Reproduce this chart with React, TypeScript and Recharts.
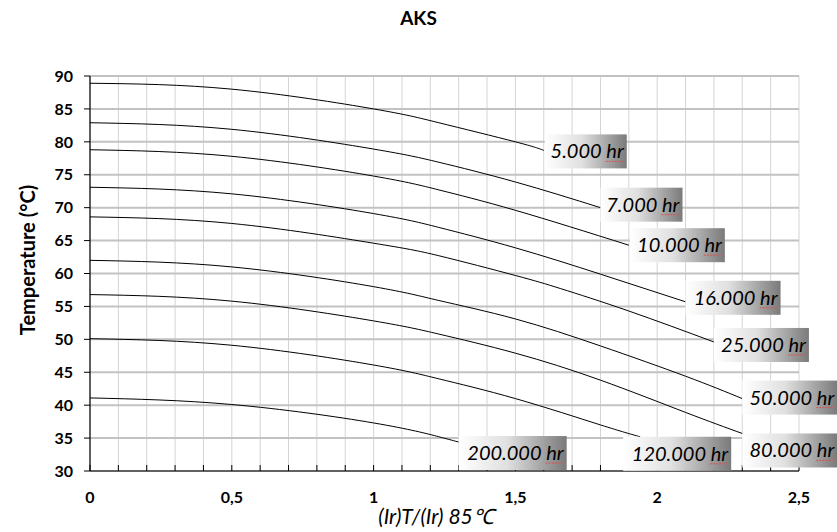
import React from 'react';
import { LineChart, Line, XAxis, YAxis, CartesianGrid } from 'recharts';

// ---- data ----
const X_5000 = [0, 0.5, 1.0, 1.23, 1.5, 1.6];
const T_5000 = [88.9, 88.0, 85.0, 82.9, 80.0, 78.7];

const X_7000 = [0, 0.5, 1.0, 1.23, 1.5, 1.8];
const T_7000 = [82.9, 81.9, 78.9, 76.9, 73.9, 70.0];

const X_10000 = [0, 0.5, 1.0, 1.23, 1.5, 1.9];
const T_10000 = [78.8, 77.8, 74.8, 72.7, 69.6, 64.3];

const X_16000 = [0, 0.5, 1.0, 1.23, 1.5, 1.8, 2.1];
const T_16000 = [73.1, 72.1, 69.1, 67.0, 63.9, 59.9, 55.7];

const X_25000 = [0, 0.5, 1.0, 1.23, 1.5, 1.66, 1.9, 2.2];
const T_25000 = [68.6, 67.6, 64.6, 62.7, 59.7, 57.7, 54.3, 49.6];

const X_50000 = [0, 0.5, 1.0, 1.23, 1.5, 1.8, 2.1, 2.3];
const T_50000 = [62.0, 61.0, 58.0, 55.9, 53.1, 49.0, 44.4, 41.0];

const X_80000 = [0, 0.5, 1.0, 1.23, 1.5, 1.8, 2.1, 2.3];
const T_80000 = [56.8, 55.8, 52.8, 50.8, 47.9, 43.8, 38.9, 35.7];

const X_120000 = [0, 0.5, 1.0, 1.23, 1.5, 1.8, 1.94];
const T_120000 = [50.1, 49.1, 46.1, 44.0, 41.0, 37.0, 35.2];

const X_200000 = [0, 0.5, 1.0, 1.23, 1.3];
const T_200000 = [41.1, 40.1, 37.3, 35.2, 34.4];

const SERIES_NAMES = ['5.000 hr', '7.000 hr', '10.000 hr', '16.000 hr', '25.000 hr', '50.000 hr', '80.000 hr', '120.000 hr', '200.000 hr'];
const SERIES_X = [X_5000, X_7000, X_10000, X_16000, X_25000, X_50000, X_80000, X_120000, X_200000];
const SERIES_T = [T_5000, T_7000, T_10000, T_16000, T_25000, T_50000, T_80000, T_120000, T_200000];

const X_TICKS = [0, 0.1, 0.2, 0.3, 0.4, 0.5, 0.6, 0.7, 0.8, 0.9, 1, 1.1, 1.2, 1.3, 1.4, 1.5, 1.6, 1.7, 1.8, 1.9, 2, 2.1, 2.2, 2.3, 2.4, 2.5];
const X_MAJOR_LABELS: Record<string, string> = { '0': '0', '0.5': '0,5', '1': '1', '1.5': '1,5', '2': '2', '2.5': '2,5' };
const Y_TICKS = [30, 35, 40, 45, 50, 55, 60, 65, 70, 75, 80, 85, 90];

const TITLE = 'AKS';
const Y_TITLE = 'Temperature (°C)';
const X_TITLE = '(Ir)T/(Ir) 85\u2103';

// label box placement (offsets relative to the line's last point), kept apart from data
const LABEL_PLACEMENT: Record<string, { dx: number; dy: number }> = {
  '5.000 hr': { dx: 1, dy: -16 },
  '7.000 hr': { dx: 0, dy: -20 },
  '10.000 hr': { dx: 1, dy: -17 },
  '16.000 hr': { dx: 0, dy: -21 },
  '25.000 hr': { dx: 0, dy: -14 },
  '50.000 hr': { dx: 0, dy: -18 },
  '80.000 hr': { dx: 0, dy: 0 },
  '120.000 hr': { dx: -17, dy: 0 },
  '200.000 hr': { dx: 0, dy: -6 },
};

const FONT = 'Lato, "Open Sans", sans-serif';

const buildData = (xs: number[], ts: number[]) => xs.map((x, i) => ({ x, t: ts[i] }));

const XTick = (props: any) => {
  const { x, y, payload } = props;
  const v = payload.value;
  const axisY = y - 21;
  const key = String(Math.round(v * 10) / 10);
  const lbl = X_MAJOR_LABELS[key];
  return (
    <g>
      <line x1={x} x2={x} y1={axisY} y2={axisY - 6} stroke="#000" strokeWidth={1} />
      {lbl !== undefined && (
        <text x={x} y={y} dy="0.71em" textAnchor="middle" fontFamily={FONT} fontWeight={700} fontSize={16} fill="#000">
          {lbl}
        </text>
      )}
    </g>
  );
};

const makeEndLabel = (name: string, n: number, idx: number) => (props: any) => {
  const { x, y, index } = props;
  if (index !== n - 1 || x == null || y == null) return null;
  const pl = LABEL_PLACEMENT[name] || { dx: 0, dy: -17 };
  const w = 82 + 13 * (name.length - 8);
  const h = 34;
  const bx = x + pl.dx;
  const by = y + pl.dy;
  const gid = `lblgrad${idx}`;
  const tx = bx + w - 3;
  const ty = by + h / 2 + 7;
  return (
    <g>
      <defs>
        <linearGradient id={gid} x1="0" y1="0" x2="1" y2="0">
          <stop offset="0%" stopColor="#ffffff" />
          <stop offset="45%" stopColor="#e0e0e0" />
          <stop offset="100%" stopColor="#7a7a7a" />
        </linearGradient>
      </defs>
      <rect x={bx} y={by} width={w} height={h} fill={`url(#${gid})`} />
      <text x={tx} y={ty} textAnchor="end" fontFamily={FONT} fontStyle="italic" fontSize={20} fill="#000">
        {name}
      </text>
      <line x1={tx - 18} x2={tx - 1} y1={ty + 3} y2={ty + 3} stroke="#e05050" strokeWidth={1} strokeDasharray="2 1" />
    </g>
  );
};

export default function App() {
  return (
    <div style={{ position: 'absolute', left: 0, top: 0, width: 837, height: 532, background: '#fff', fontFamily: FONT }}>
      <LineChart width={837} height={532} margin={{ top: 76, right: 38, bottom: 21, left: 30 }}>
        <CartesianGrid horizontal={false} vertical={true} stroke="#d4d4d4" strokeWidth={1} />
        <CartesianGrid horizontal={true} vertical={false} stroke="#c2c2c2" strokeWidth={2} />
        <XAxis
          dataKey="x"
          type="number"
          domain={[0, 2.5]}
          ticks={X_TICKS}
          interval={0}
          allowDuplicatedCategory={false}
          height={40}
          tickSize={0}
          tickMargin={21}
          tickLine={false}
          axisLine={{ stroke: '#000', strokeWidth: 1.2 }}
          tick={<XTick />}
        />
        <XAxis xAxisId="top" orientation="top" type="number" domain={[0, 2.5]} height={0} tick={false} tickLine={false} axisLine={{ stroke: '#000', strokeWidth: 1.2 }} />
        <YAxis
          type="number"
          domain={[30, 90]}
          ticks={Y_TICKS}
          interval={0}
          width={60}
          tickSize={6}
          tickMargin={11}
          tickLine={{ stroke: '#000' }}
          axisLine={{ stroke: '#000', strokeWidth: 1.2 }}
          tick={{ fontFamily: FONT, fontWeight: 700, fontSize: 16, fill: '#000' }}
        />
        <YAxis yAxisId="right" orientation="right" type="number" domain={[30, 90]} width={0} tick={false} tickLine={false} axisLine={{ stroke: '#000', strokeWidth: 1.2 }} />
        {SERIES_NAMES.map((name, i) => {
          const d = buildData(SERIES_X[i], SERIES_T[i]);
          return (
            <Line
              key={name}
              data={d}
              dataKey="t"
              name={name}
              type="natural"
              stroke="#000"
              strokeWidth={1}
              dot={false}
              activeDot={false}
              isAnimationActive={false}
              label={makeEndLabel(name, d.length, i)}
            />
          );
        })}
      </LineChart>
      <div style={{ position: 'absolute', left: 0, width: 837, top: 6, textAlign: 'center', fontWeight: 700, fontSize: 19, lineHeight: '24px', color: '#000' }}>
        {TITLE}
      </div>
      <div
        style={{
          position: 'absolute',
          left: 27,
          top: 260,
          transform: 'translate(-50%, -50%) rotate(-90deg)',
          whiteSpace: 'nowrap',
          fontWeight: 700,
          fontSize: 20,
          color: '#000',
        }}
      >
        {Y_TITLE}
      </div>
      <div
        style={{
          position: 'absolute',
          left: 436,
          top: 516,
          transform: 'translate(-50%, -50%)',
          whiteSpace: 'nowrap',
          fontStyle: 'italic',
          fontSize: 21,
          color: '#000',
        }}
      >
        {X_TITLE}
      </div>
    </div>
  );
}
